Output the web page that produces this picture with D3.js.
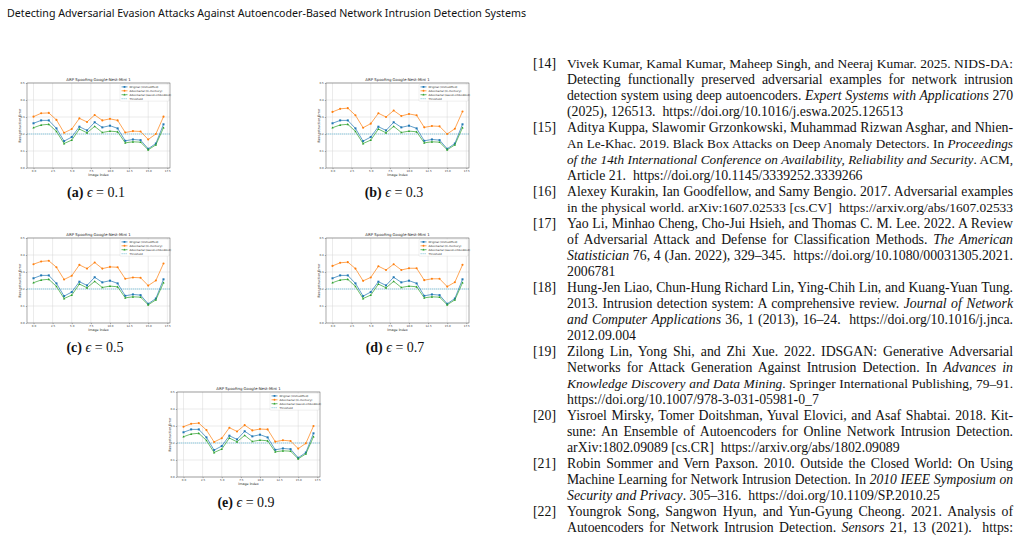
<!DOCTYPE html>
<html><head><meta charset="utf-8">
<script src="https://cdn.jsdelivr.net/npm/d3@7"></script>
<style>body{margin:0;background:#fff}svg{display:block}</style>
</head><body>
<svg id="page" width="1023" height="540"></svg>
<script>
// ---------- data ----------
const imageIndex = d3.range(0, 18);
const xTicks = [0.0, 2.5, 5.0, 7.5, 10.0, 12.5, 15.0, 17.5];
const yTicks = [0.0, 0.1, 0.2, 0.3, 0.4, 0.5];
const threshold = 0.2;
const seriesNames = ["Original (Unmodified)", "Adversarial (In-memory)", "Adversarial (saved-embedded)", "Threshold"];
const original = [0.263,0.280,0.280,0.233,0.158,0.182,0.243,0.221,0.269,0.239,0.249,0.233,0.160,0.168,0.164,0.113,0.144,0.257];
const savedEmbedded = [0.237,0.253,0.257,0.215,0.144,0.164,0.229,0.207,0.245,0.209,0.217,0.213,0.148,0.154,0.152,0.107,0.136,0.237];
const inMemoryEps01 = [0.302,0.322,0.324,0.283,0.207,0.229,0.292,0.271,0.312,0.280,0.289,0.280,0.209,0.217,0.215,0.168,0.200,0.302];
const inMemoryEps03 = [0.330,0.348,0.352,0.310,0.237,0.261,0.322,0.300,0.338,0.306,0.318,0.310,0.239,0.247,0.245,0.200,0.231,0.332];
const inMemoryEps05 = [0.346,0.362,0.366,0.328,0.256,0.278,0.342,0.320,0.356,0.320,0.330,0.328,0.260,0.268,0.266,0.220,0.250,0.350];
const inMemoryEps07 = [0.336,0.354,0.358,0.320,0.248,0.268,0.334,0.312,0.346,0.312,0.322,0.322,0.252,0.260,0.260,0.214,0.240,0.342];
const inMemoryEps09 = [0.296,0.313,0.317,0.276,0.206,0.228,0.290,0.268,0.305,0.274,0.282,0.280,0.208,0.216,0.212,0.167,0.198,0.300];
const panelLabels = ["(a)", "(b)", "(c)", "(d)", "(e)"];
const epsilons = ["0.1", "0.3", "0.5", "0.7", "0.9"];
const chartTitle = "ARP Spoofing Google-Nest-Mini 1";
const headerText = "Detecting Adversarial Evasion Attacks Against Autoencoder-Based Network Intrusion Detection Systems";

// references: [number, lines]; each line is list of [text, italic]
const references = [
 ["[14]", [
  [["Vivek Kumar, Kamal Kumar, Maheep Singh, and Neeraj Kumar. 2025. NIDS-DA:",0]],
  [["Detecting functionally preserved adversarial examples for network intrusion",0]],
  [["detection system using deep autoencoders. ",0],["Expert Systems with Applications",1],[" 270",0]],
  [["(2025), 126513.  https://doi.org/10.1016/j.eswa.2025.126513",0]]]],
 ["[15]", [
  [["Aditya Kuppa, Slawomir Grzonkowski, Muhammad Rizwan Asghar, and Nhien-",0]],
  [["An Le-Khac. 2019. Black Box Attacks on Deep Anomaly Detectors. In ",0],["Proceedings",1]],
  [["of the 14th International Conference on Availability, Reliability and Security",1],[". ACM,",0]],
  [["Article 21.  https://doi.org/10.1145/3339252.3339266",0]]]],
 ["[16]", [
  [["Alexey Kurakin, Ian Goodfellow, and Samy Bengio. 2017. Adversarial examples",0]],
  [["in the physical world. arXiv:1607.02533 [cs.CV]  https://arxiv.org/abs/1607.02533",0]]]],
 ["[17]", [
  [["Yao Li, Minhao Cheng, Cho-Jui Hsieh, and Thomas C. M. Lee. 2022. A Review",0]],
  [["of Adversarial Attack and Defense for Classification Methods. ",0],["The American",1]],
  [["Statistician",1],[" 76, 4 (Jan. 2022), 329–345.  https://doi.org/10.1080/00031305.2021.",0]],
  [["2006781",0]]]],
 ["[18]", [
  [["Hung-Jen Liao, Chun-Hung Richard Lin, Ying-Chih Lin, and Kuang-Yuan Tung.",0]],
  [["2013. Intrusion detection system: A comprehensive review. ",0],["Journal of Network",1]],
  [["and Computer Applications",1],[" 36, 1 (2013), 16–24.  https://doi.org/10.1016/j.jnca.",0]],
  [["2012.09.004",0]]]],
 ["[19]", [
  [["Zilong Lin, Yong Shi, and Zhi Xue. 2022. IDSGAN: Generative Adversarial",0]],
  [["Networks for Attack Generation Against Intrusion Detection. In ",0],["Advances in",1]],
  [["Knowledge Discovery and Data Mining",1],[". Springer International Publishing, 79–91.",0]],
  [["https://doi.org/10.1007/978-3-031-05981-0_7",0]]]],
 ["[20]", [
  [["Yisroel Mirsky, Tomer Doitshman, Yuval Elovici, and Asaf Shabtai. 2018. Kit-",0]],
  [["sune: An Ensemble of Autoencoders for Online Network Intrusion Detection.",0]],
  [["arXiv:1802.09089 [cs.CR]  https://arxiv.org/abs/1802.09089",0]]]],
 ["[21]", [
  [["Robin Sommer and Vern Paxson. 2010. Outside the Closed World: On Using",0]],
  [["Machine Learning for Network Intrusion Detection. In ",0],["2010 IEEE Symposium on",1]],
  [["Security and Privacy",1],[". 305–316.  https://doi.org/10.1109/SP.2010.25",0]]]],
 ["[22]", [
  [["Youngrok Song, Sangwon Hyun, and Yun-Gyung Cheong. 2021. Analysis of",0]],
  [["Autoencoders for Network Intrusion Detection. ",0],["Sensors",1],[" 21, 13 (2021).  https:",0]]]]
];

// ---------- layout ----------
const svg = d3.select("#page");
svg.append("rect").attr("width",1023).attr("height",540).attr("fill","#fff");

svg.append("text").attr("x",7).attr("y",16.5)
  .attr("font-family","'Noto Sans', sans-serif").attr("font-size",11.2).attr("fill","#111")
  .attr("textLength",519).attr("lengthAdjust","spacingAndGlyphs").text(headerText);

const panels = [
  {L:27, T:83, data:inMemoryEps01, cx:96, cy:197},
  {L:326, T:83, data:inMemoryEps03, cx:394, cy:197},
  {L:27, T:238, data:inMemoryEps05, cx:95, cy:352},
  {L:326, T:238, data:inMemoryEps07, cx:395, cy:352},
  {L:177, T:392, data:inMemoryEps09, cx:246, cy:507}
];
const W = 143, H = 85;
const colors = ["#1f77b4", "#ff7f0e", "#2ca02c", "#add8e6"];
const fontC = "'DejaVu Sans', sans-serif";

function marker(g, type, cx, cy, color, s) {
  if (type === 0) g.append("rect").attr("x",cx-s).attr("y",cy-s).attr("width",2*s).attr("height",2*s).attr("fill",color);
  else if (type === 1) g.append("circle").attr("cx",cx).attr("cy",cy).attr("r",s*1.05).attr("fill",color);
  else g.append("path").attr("d",`M${cx},${cy-s*1.2}L${cx+s*1.15},${cy+s*0.9}L${cx-s*1.15},${cy+s*0.9}Z`).attr("fill",color);
}

panels.forEach((p, i) => {
  const g = svg.append("g").attr("transform",`translate(${p.L},${p.T})`);
  const x = d3.scaleLinear().domain([-0.85, 17.85]).range([0, W]);
  const y = d3.scaleLinear().domain([0, 0.5]).range([H, 0]);
  // grid
  g.selectAll(".gx").data(xTicks).enter().append("line")
    .attr("x1",d=>x(d)).attr("x2",d=>x(d)).attr("y1",0).attr("y2",H)
    .attr("stroke","#d6d6d6").attr("stroke-width",0.5);
  g.selectAll(".gy").data(yTicks).enter().append("line")
    .attr("y1",d=>y(d)).attr("y2",d=>y(d)).attr("x1",0).attr("x2",W)
    .attr("stroke","#d6d6d6").attr("stroke-width",0.5);
  // axes
  const ax = g.append("g").attr("transform",`translate(0,${H})`)
    .call(d3.axisBottom(x).tickValues(xTicks).tickSize(1.2).tickPadding(1).tickFormat(d3.format(".1f")));
  const ay = g.append("g")
    .call(d3.axisLeft(y).tickValues(yTicks).tickSize(1.2).tickPadding(1).tickFormat(d3.format(".1f")));
  [ax, ay].forEach(a => {
    a.select(".domain").remove();
    a.selectAll("line").attr("stroke","#444").attr("stroke-width",0.4);
    a.selectAll("text").attr("font-size",2.7).attr("font-family",fontC).attr("fill","#333");
  });
  // threshold
  g.append("line").attr("x1",0).attr("x2",W).attr("y1",y(threshold)).attr("y2",y(threshold))
    .attr("stroke",colors[3]).attr("stroke-width",1.3).attr("stroke-dasharray","1.3,0.7");
  // series
  const line = d3.line().x((d,j)=>x(imageIndex[j])).y(d=>y(d));
  const series = [original, p.data, savedEmbedded];
  series.forEach((s, k) => {
    g.append("path").attr("d",line(s)).attr("fill","none").attr("stroke",colors[k]).attr("stroke-width",0.7);
    s.forEach((v, j) => marker(g, k, x(imageIndex[j]), y(v), colors[k], 1.0));
  });
  // frame
  g.append("rect").attr("width",W).attr("height",H).attr("fill","none").attr("stroke","#444").attr("stroke-width",0.45);
  // title / labels
  g.append("text").attr("x",W/2).attr("y",-2.3).attr("text-anchor","middle")
    .attr("font-family",fontC).attr("font-size",3.9).attr("fill","#222").text(chartTitle);
  g.append("text").attr("x",W/2).attr("y",H+7.5).attr("text-anchor","middle")
    .attr("font-family",fontC).attr("font-size",3.3).attr("fill","#222").text("Image Index");
  g.append("text").attr("transform",`translate(-6,${H/2}) rotate(-90)`).attr("text-anchor","middle")
    .attr("font-family",fontC).attr("font-size",3.3).attr("fill","#222").text("Reconstruction Error");
  // legend
  const lg = g.append("g").attr("transform",`translate(${W-50},1.2)`);
  lg.append("rect").attr("width",49).attr("height",17).attr("rx",0.8)
    .attr("fill","#fff").attr("fill-opacity",0.85).attr("stroke","#ccc").attr("stroke-width",0.3);
  seriesNames.forEach((n, k) => {
    const yy = 2.7 + k * 3.9;
    if (k < 3) {
      lg.append("line").attr("x1",1.5).attr("x2",7.5).attr("y1",yy).attr("y2",yy).attr("stroke",colors[k]).attr("stroke-width",0.7);
      marker(lg, k, 4.5, yy, colors[k], 0.9);
    } else {
      lg.append("line").attr("x1",1.5).attr("x2",7.5).attr("y1",yy).attr("y2",yy).attr("stroke",colors[3]).attr("stroke-width",1.3).attr("stroke-dasharray","1.3,0.7");
    }
    lg.append("text").attr("x",9.5).attr("y",yy+0.95).attr("font-family",fontC).attr("font-size",2.7).attr("fill","#222").text(n);
  });
  // caption
  const cap = svg.append("text").attr("x",p.cx).attr("y",p.cy).attr("text-anchor","middle")
    .attr("font-family","'Liberation Serif', serif").attr("font-size",14).attr("fill","#111");
  cap.append("tspan").attr("font-weight","bold").text(panelLabels[i] + " ");
  cap.append("tspan").attr("font-style","italic").text("ϵ");
  cap.append("tspan").text(" = " + epsilons[i]);
});

// ---------- references ----------
const refFont = "'Liberation Serif', serif";
const refSize = 13.8;
const textX = 567, textR = 1013, numX = 533;
let lineNo = 0;
references.forEach(([num, lines]) => {
  svg.append("text").attr("x",numX).attr("y",68 + lineNo*16).attr("font-family",refFont)
    .attr("font-size",refSize).attr("fill","#111").text(num);
  lines.forEach((segs, li) => {
    const t = svg.append("text").attr("x",textX).attr("y",68 + lineNo*16)
      .attr("font-family",refFont).attr("font-size",refSize).attr("fill","#111")
      .attr("xml:space","preserve");
    segs.forEach(([s, it]) => {
      const ts = t.append("tspan").text(s);
      if (it) ts.attr("font-style","italic");
    });
    let natural = t.node().getComputedTextLength();
    const target = textR - textX;
    const isLast = li === lines.length - 1;
    const isFinalRef = num === "[22]";
    if (natural > target) {
      t.attr("font-size", refSize * target / natural * 0.995);
      natural = t.node().getComputedTextLength();
    }
    if (!isLast || isFinalRef || natural > target * 0.93) {
      const full = segs.map(s=>s[0]).join("");
      const spaces = (full.match(/ /g) || []).length;
      if (spaces > 0 && natural < target) t.attr("word-spacing", (target - natural) / spaces);
    }
    lineNo++;
  });
});
</script>
</body></html>
